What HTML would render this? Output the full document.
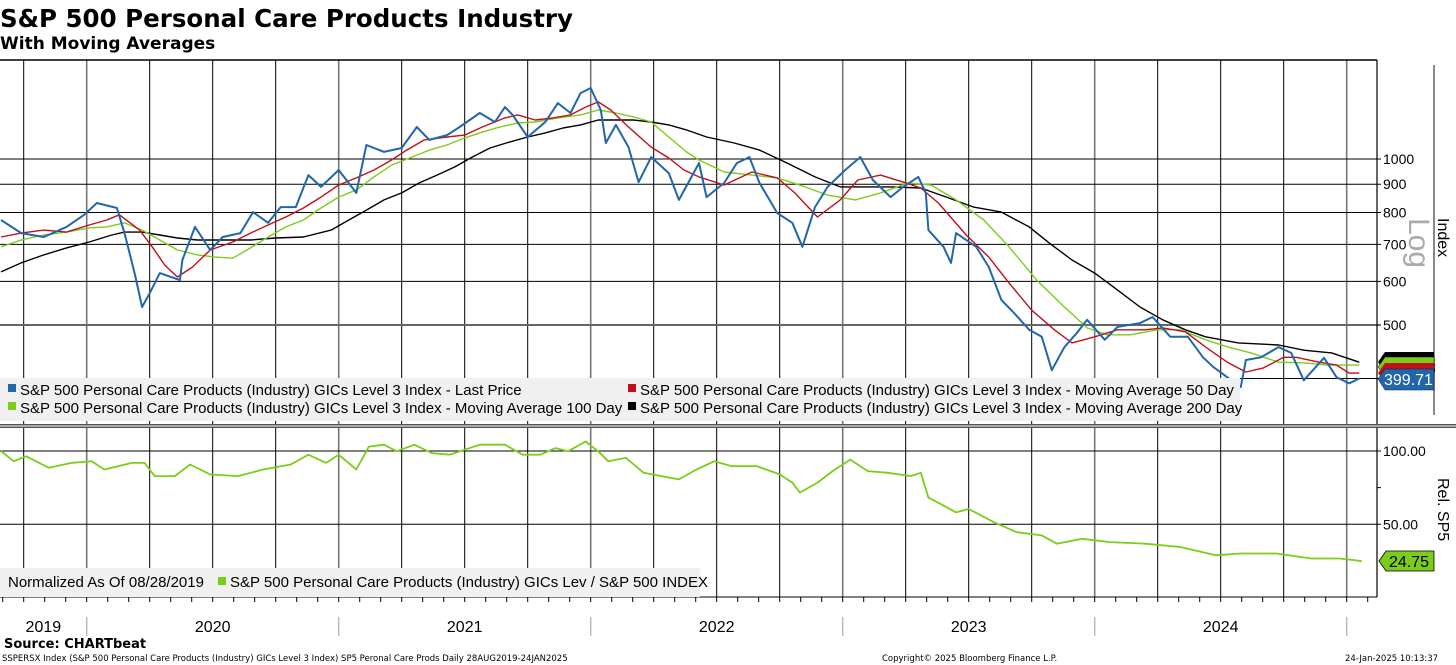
<!DOCTYPE html>
<html><head><meta charset="utf-8">
<style>
html,body{margin:0;padding:0;background:#fff;}
svg{display:block;font-family:"Liberation Sans",sans-serif;}
</style></head>
<body>
<svg id="chart" width="1456" height="665" viewBox="0 0 1456 665">
  <text x="0" y="27" font-family="DejaVu Sans,sans-serif" font-weight="bold" font-size="24.5">S&amp;P 500 Personal Care Products Industry</text>
  <text x="0" y="49" font-family="DejaVu Sans,sans-serif" font-weight="bold" font-size="17">With Moving Averages</text>
  <g id="grid"></g>
  <g id="series"></g>
  <g id="axes"></g>
  <!-- legends -->
  <rect x="0" y="378" width="1240" height="43" fill="#f0f0f0"/>
  <rect x="8" y="384" width="8" height="8" fill="#2166ac"/>
  <text x="20" y="395" font-size="15">S&amp;P 500 Personal Care Products (Industry) GICs Level 3 Index - Last Price</text>
  <rect x="628" y="384" width="8" height="8" fill="#c0101a"/>
  <text x="640" y="395" font-size="15">S&amp;P 500 Personal Care Products (Industry) GICs Level 3 Index - Moving Average 50 Day</text>
  <rect x="8" y="402" width="8" height="8" fill="#7ccc1a"/>
  <text x="20" y="413" font-size="15">S&amp;P 500 Personal Care Products (Industry) GICs Level 3 Index - Moving Average 100 Day</text>
  <rect x="628" y="402" width="8" height="8" fill="#000"/>
  <text x="640" y="413" font-size="15">S&amp;P 500 Personal Care Products (Industry) GICs Level 3 Index - Moving Average 200 Day</text>

  <rect x="0" y="568" width="700" height="29" fill="#f0f0f0"/>
  <text x="8" y="587" font-size="15">Normalized As Of 08/28/2019</text>
  <rect x="218" y="577" width="8" height="8" fill="#7ccc1a"/>
  <text x="230" y="587" font-size="15">S&amp;P 500 Personal Care Products (Industry) GICs Lev / S&amp;P 500 INDEX</text>

  <!-- right labels -->
  <text transform="translate(1409,218) rotate(90)" font-size="30" fill="#aaa">Log</text>
  <line x1="1434" y1="65" x2="1434" y2="415" stroke="#888" stroke-width="2"/>
  <text transform="translate(1438,218) rotate(90)" font-size="16">Index</text>
  <text transform="translate(1438,478) rotate(90)" font-size="16">Rel. SP5</text>
  <g>
    <polygon points="1385,352 1434,352 1434,372 1385,372 1378,362" fill="#000"/>
    <polygon points="1385,357 1434,357 1434,377 1385,377 1378,367" fill="#7ccc1a" stroke="#000" stroke-width="0.5"/>
    <text x="1390" y="373" font-size="15" fill="#000">410.93</text>
    <polygon points="1385,363 1434,363 1434,383 1385,383 1378,373" fill="#c0101a"/>
    <polygon points="1385,369 1434,369 1434,390 1385,390 1378,379" fill="#2166ac" stroke="#123" stroke-width="0.5"/>
    <text x="1384" y="385" font-size="16" fill="#fff">399.71</text>
    <polygon points="1386,551 1434,551 1434,571 1386,571 1379,561" fill="#7ccc1a" stroke="#000" stroke-width="0.8"/>
    <text x="1389" y="567" font-size="16" fill="#000">24.75</text>
  </g>

  <text x="4" y="648" font-family="DejaVu Sans,sans-serif" font-weight="bold" font-size="13">Source: CHARTbeat</text>
  <text x="2" y="661" font-family="DejaVu Sans,sans-serif" font-size="8.5">SSPERSX Index (S&amp;P 500 Personal Care Products (Industry) GICs Level 3 Index) SP5 Peronal Care Prods  Daily 28AUG2019-24JAN2025</text>
  <text x="882" y="661" font-family="DejaVu Sans,sans-serif" font-size="8.5">Copyright© 2025 Bloomberg Finance L.P.</text>
  <text x="1345" y="661" font-family="DejaVu Sans,sans-serif" font-size="8.5">24-Jan-2025 10:13:37</text>
</svg>
<script>
const priceDates=[2019.66,2019.74,2019.83,2019.92,2019.99,2020.04,2020.12,2020.15,2020.19,2020.22,2020.25,2020.29,2020.37,2020.38,2020.43,2020.49,2020.54,2020.61,2020.66,2020.72,2020.77,2020.83,2020.88,2020.93,2021.00,2021.07,2021.11,2021.18,2021.25,2021.31,2021.36,2021.43,2021.48,2021.56,2021.62,2021.66,2021.69,2021.75,2021.82,2021.87,2021.92,2021.96,2022.00,2022.04,2022.06,2022.10,2022.15,2022.19,2022.24,2022.31,2022.35,2022.43,2022.46,2022.53,2022.58,2022.63,2022.67,2022.74,2022.80,2022.84,2022.89,2022.94,2023.01,2023.07,2023.12,2023.19,2023.24,2023.30,2023.33,2023.34,2023.40,2023.43,2023.45,2023.53,2023.58,2023.63,2023.68,2023.74,2023.79,2023.83,2023.88,2023.93,2023.97,2024.04,2024.09,2024.18,2024.23,2024.30,2024.37,2024.43,2024.47,2024.53,2024.58,2024.60,2024.66,2024.73,2024.78,2024.83,2024.91,2024.96,2025.01,2025.05];
const priceValues=[775,734,722,753,792,832,815,734,621,539,571,621,603,656,753,684,722,734,801,766,818,818,935,890,955,868,1060,1030,1047,1143,1083,1105,1143,1212,1167,1242,1202,1096,1167,1263,1212,1317,1345,1227,1069,1153,1051,908,1008,943,843,983,853,905,983,1008,905,798,766,693,818,890,955,1008,916,853,890,928,868,743,693,648,734,693,637,555,526,490,476,414,456,484,511,470,496,504,517,476,476,437,420,401,386,432,437,456,445,397,436,402,392,400];
const ma50Dates=[2019.66,2019.74,2019.83,2019.92,2020.01,2020.08,2020.13,2020.21,2020.26,2020.31,2020.36,2020.42,2020.49,2020.58,2020.65,2020.72,2020.79,2020.86,2020.93,2021.00,2021.07,2021.14,2021.21,2021.27,2021.34,2021.43,2021.50,2021.57,2021.66,2021.71,2021.78,2021.85,2021.92,2021.98,2022.03,2022.08,2022.15,2022.24,2022.31,2022.37,2022.43,2022.53,2022.64,2022.74,2022.81,2022.90,2022.99,2023.06,2023.15,2023.24,2023.31,2023.38,2023.49,2023.58,2023.66,2023.75,2023.84,2023.91,2024.00,2024.09,2024.20,2024.27,2024.36,2024.44,2024.53,2024.60,2024.67,2024.75,2024.80,2024.89,2024.96,2025.01,2025.05];
const ma50Values=[722,734,743,737,759,775,792,743,693,642,611,637,684,707,734,759,785,815,853,897,924,955,996,1038,1083,1096,1105,1143,1187,1202,1177,1187,1202,1242,1269,1227,1143,1051,1004,955,928,897,947,924,868,785,843,916,935,908,886,832,728,664,596,532,490,464,476,490,490,494,486,456,427,411,418,437,437,428,423,409,409];
const ma100Dates=[2019.66,2019.74,2019.83,2019.92,2020.01,2020.08,2020.15,2020.22,2020.29,2020.36,2020.44,2020.51,2020.58,2020.65,2020.72,2020.79,2020.86,2020.93,2021.00,2021.07,2021.14,2021.21,2021.29,2021.36,2021.43,2021.50,2021.57,2021.64,2021.71,2021.78,2021.87,2021.96,2022.03,2022.10,2022.17,2022.24,2022.31,2022.38,2022.43,2022.53,2022.64,2022.74,2022.83,2022.94,2023.05,2023.15,2023.26,2023.35,2023.45,2023.56,2023.66,2023.77,2023.88,2023.97,2024.05,2024.14,2024.25,2024.34,2024.44,2024.53,2024.62,2024.73,2024.83,2024.92,2025.05];
const ma100Values=[693,713,728,737,750,753,766,743,713,684,670,664,661,690,722,753,775,815,853,879,928,975,1008,1038,1060,1092,1119,1143,1162,1167,1187,1202,1227,1212,1192,1167,1096,1030,996,947,935,924,897,860,843,868,905,897,843,775,693,603,539,494,480,480,490,490,470,456,445,428,427,423,423];
const ma200Dates=[2019.66,2019.74,2019.83,2019.92,2020.01,2020.10,2020.15,2020.22,2020.29,2020.36,2020.44,2020.54,2020.65,2020.75,2020.86,2020.97,2021.04,2021.11,2021.18,2021.25,2021.32,2021.39,2021.46,2021.53,2021.60,2021.68,2021.75,2021.82,2021.89,2021.96,2022.03,2022.10,2022.17,2022.24,2022.31,2022.38,2022.46,2022.57,2022.67,2022.78,2022.89,2022.99,2023.10,2023.20,2023.31,2023.42,2023.52,2023.63,2023.74,2023.82,2023.91,2024.00,2024.09,2024.18,2024.27,2024.36,2024.44,2024.57,2024.73,2024.83,2024.94,2025.05];
const ma200Values=[624,648,670,690,707,728,737,737,728,719,713,713,713,719,722,743,775,808,843,868,905,935,967,1008,1047,1074,1096,1115,1138,1153,1177,1177,1177,1167,1153,1129,1096,1069,1038,983,928,890,890,890,886,850,818,801,753,704,656,621,579,539,511,490,476,464,460,450,445,428];
const relDates=[2019.66,2019.71,2019.76,2019.85,2019.94,2020.02,2020.07,2020.18,2020.23,2020.27,2020.35,2020.41,2020.49,2020.60,2020.70,2020.81,2020.88,2020.95,2021.00,2021.07,2021.12,2021.18,2021.23,2021.30,2021.37,2021.44,2021.56,2021.66,2021.73,2021.80,2021.86,2021.91,2021.98,2022.03,2022.07,2022.14,2022.21,2022.28,2022.35,2022.42,2022.49,2022.56,2022.66,2022.75,2022.80,2022.83,2022.90,2022.96,2023.03,2023.10,2023.18,2023.27,2023.31,2023.34,2023.39,2023.45,2023.50,2023.60,2023.69,2023.79,2023.85,2023.95,2024.06,2024.20,2024.34,2024.48,2024.58,2024.72,2024.86,2024.97,2025.03,2025.06];
const relValues=[100,93,96.4,88.5,91.9,93,87.4,91.9,91.9,82.9,82.9,90.8,84,82.9,87.4,90.8,97.5,91.9,97.5,87.4,103,104.3,99.8,104.3,98.6,97.5,104.3,104.3,97.5,97.5,102,99.8,106.5,99.8,93,95.3,85.1,82.9,80.6,87.4,93,89.6,89.6,84,78.4,71.6,78.4,86.3,94.1,86.3,85.1,82.9,85.1,68.2,63.7,58.1,60.4,51.4,44.6,42.4,36.7,40.1,37.8,36.7,34.5,28.8,30,30,26.6,26.6,25.5,24.75];
const priceTicks=[500,600,700,800,900,1000];
const relTicks=[50,100];
const yearLabels=["2019","2020","2021","2022","2023","2024"];
const yearStarts=[2019.656,2020,2021,2022,2023,2024,2025];

const NS="http://www.w3.org/2000/svg";
const X0=2019.656, PXY=252;
const xS=t=>(t-X0)*PXY;
const yTop=v=>159-239.5*Math.log(v/1000);
const yRel=v=>597.5-1.465*v;
function mk(tag,parent,attrs){const e=document.createElementNS(NS,tag);for(const k in attrs)e.setAttribute(k,attrs[k]);parent.appendChild(e);return e;}
const grid=document.getElementById('grid'),series=document.getElementById('series'),axes=document.getElementById('axes');
for(let y=2019.75;y<2025.1;y+=0.25){
  const x=xS(y);if(x<0||x>1376)continue;
  const isYear=Math.abs(y-Math.round(y))<0.01;
  const l=mk('line',grid,{x1:x,x2:x,y1:60,y2:597,stroke:isYear?'#777':'#000','stroke-width':isYear?1.6:1});
  
  
}
priceTicks.forEach(v=>{
  const y=yTop(v);
  const l=mk('line',grid,{x1:0,x2:1381,y1:y,y2:y,stroke:v===500?'#666':'#000','stroke-width':v===500?2:1});
  
  
  const t=mk('text',axes,{x:1383,y:y+5,'font-size':14});t.textContent=v;
  
  
});
relTicks.forEach(v=>{
  const y=yRel(v);
  const l=mk('line',grid,{x1:0,x2:1381,y1:y,y2:y,stroke:'#000','stroke-width':1});
  
  
  const t=mk('text',axes,{x:1383,y:y+5,'font-size':14});t.textContent=v.toFixed(2);
  
  
});
mk('line',grid,{x1:1377,x2:1381,y1:yRel(75),y2:yRel(75),stroke:'#000'});
const lp=mk('line',grid,{x1:1215,x2:1381,y1:yTop(priceValues[priceValues.length-1]),y2:yTop(priceValues[priceValues.length-1]),stroke:'#000','stroke-width':1});


function path(dates,vals,yf,color,w,name){
  const d=dates.map((t,i)=>(i?'L':'M')+xS(t).toFixed(1)+','+yf(vals[i]).toFixed(1)).join('');
  const p=mk('path',series,{d:d,fill:'none',stroke:color,'stroke-width':w,'stroke-linejoin':'round'});
  
  
}
path(ma200Dates,ma200Values,yTop,'#000',1.4,'ma200-line');
path(ma100Dates,ma100Values,yTop,'#7ccc1a',1.4,'ma100-line');
path(ma50Dates,ma50Values,yTop,'#c0101a',1.4,'ma50-line');
path(priceDates,priceValues,yTop,'#2166ac',2,'last-price-line-series');
path(relDates,relValues,yRel,'#7ccc1a',1.8,'relative-line');
mk('line',axes,{x1:0,x2:1377,y1:60,y2:60,stroke:'#000','stroke-width':1.5});
mk('line',axes,{x1:1377,x2:1377,y1:60,y2:597,stroke:'#000','stroke-width':1.2});
mk('rect',axes,{x:0,y:424,width:1456,height:4,fill:'#555'});
mk('line',axes,{x1:0,x2:1456,y1:426,y2:426,stroke:'#fff','stroke-width':1});
mk('line',axes,{x1:0,x2:1377,y1:597,y2:597,stroke:'#000','stroke-width':1});
for(let m=0;m<66;m++){
  const t=2019+8/12+m/12;const x=xS(t);if(x<0||x>1376)continue;
  mk('line',axes,{x1:x,x2:x,y1:597,y2:602,stroke:'#000'});
}
yearStarts.forEach((s,i)=>{
  if(i>0){const x=xS(s);const l=mk('line',axes,{x1:x,x2:x,y1:617,y2:636,stroke:'#bbb','stroke-width':1.5});
    
    }
  if(i<yearLabels.length){
    const x=(Math.max(0,xS(s))+xS(yearStarts[i+1]))/2;
    const t=mk('text',axes,{x:x,y:632,'font-size':16,'text-anchor':'middle'});t.textContent=yearLabels[i];
    
    
  }
});
</script>
</body></html>
